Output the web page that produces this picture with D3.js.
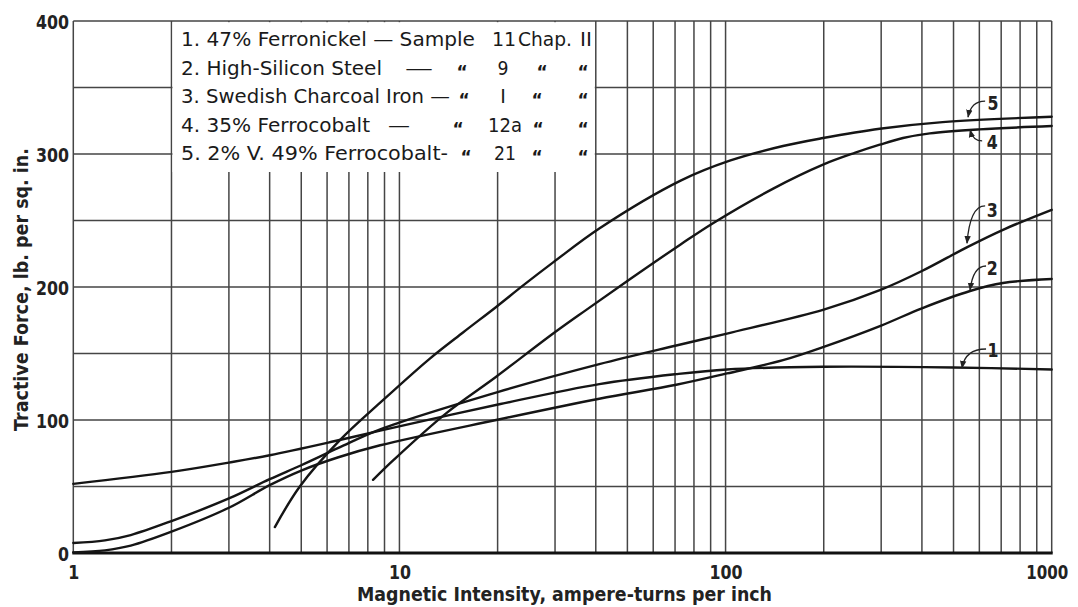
<!DOCTYPE html>
<html><head><meta charset="utf-8">
<script src="https://cdn.jsdelivr.net/npm/d3@7"></script>
<style>body{margin:0;background:#fff}svg{display:block}</style>
</head><body>
<svg id="c" width="1078" height="607"></svg>
<script>
// ---------- data ----------
const xTickValues = [1, 10, 100, 1000];
const xTickLabels = ["1", "10", "100", "1000"];
const yTickValues = [0, 100, 200, 300, 400];
const yTickLabels = ["0", "100", "200", "300", "400"];
const xGridValues = [1,2,3,4,5,6,7,8,9,10,20,30,40,50,60,70,80,90,100,200,300,400,500,600,700,800,900,1000];
const yGridValues = [0,50,100,150,200,250,300,350,400];

// 1. 47% Ferronickel
const s1x = [1, 2, 3, 4, 6.3, 8.73, 20.4, 41, 70.6, 101, 200, 500, 1000];
const s1y = [52, 61, 68, 73.5, 84, 92, 112, 127, 134.5, 138, 140, 139.5, 138];
// 2. High-Silicon Steel
const s2x = [1, 1.25, 1.5, 2, 3, 4, 5, 6.5, 8.73, 19.8, 41, 70.6, 101, 150, 200, 300, 400, 562, 709, 1000];
const s2y = [0.5, 2, 5.5, 16, 34, 51, 62, 72, 81, 100, 116, 126.5, 135, 145, 155, 171, 184, 197, 203, 206];
// 3. Swedish Charcoal Iron
const s3x = [1, 1.25, 1.5, 2, 3, 4, 5, 6.5, 8.73, 20, 41, 70.6, 101, 200, 300, 400, 551, 709, 1000];
const s3y = [7.5, 9.5, 13.5, 24, 41, 55.5, 66, 79, 93, 121, 142, 156, 165, 183, 198, 212, 230, 243, 258];
// 4. 35% Ferrocobalt
const s4x = [8.3, 9.6, 13.9, 19.8, 29.6, 37.5, 51, 72.8, 91.5, 140, 199, 250, 297, 350, 423, 600, 1000];
const s4y = [55, 70, 105, 132.5, 165, 183, 206, 232, 248, 274, 292, 301, 307, 312, 315.5, 318.5, 321];
// 5. 2% V. 49% Ferrocobalt
const s5x = [4.15, 4.95, 6.58, 8.73, 12.37, 15.7, 19.8, 23.9, 29.6, 41, 72.8, 103, 150, 199, 297, 463, 1000];
const s5y = [19.5, 50, 85, 113, 146, 166, 185, 201, 218.5, 244, 280, 295, 306, 312, 319, 324, 328];

const seriesX = [s1x, s2x, s3x, s4x, s5x];
const seriesY = [s1y, s2y, s3y, s4y, s5y];

// curve number annotations (data units)
const annNames = ["1", "2", "3", "4", "5"];
const annLabelV = [661, 657, 657, 657, 661];
const annLabelVal = [152.6, 214.3, 257.9, 309, 338.3];
const annStartV = [629, 629, 625, 612, 625];
const annStartVal = [153.4, 215.8, 261, 309.8, 339.8];
const annTipV = [531, 562, 550, 562, 554];
const annTipVal = [139.1, 197.7, 233, 318, 327.8];

// legend text
const legendRows = [
  [{t:"1. 47% Ferronickel — Sample", x:181, w:294}, {t:"11", c:504}, {t:"Chap.", x:518, w:54}, {t:"II", x:580, w:12}],
  [{t:"2. High-Silicon Steel", x:181, w:201}, {t:"—", x:405, w:28}, {t:"“", c:462, d:1}, {t:"9", c:503, w:11}, {t:"“", c:542, d:1}, {t:"“", c:583, d:1}],
  [{t:"3. Swedish Charcoal Iron —", x:181, w:269}, {t:"“", c:464, d:1}, {t:"I", c:503}, {t:"“", c:537, d:1}, {t:"“", c:583, d:1}],
  [{t:"4. 35% Ferrocobalt", x:181, w:189}, {t:"—", x:388, w:22}, {t:"“", c:458, d:1}, {t:"12a", c:505, w:34}, {t:"“", c:538, d:1}, {t:"“", c:583, d:1}],
  [{t:"5. 2% V. 49% Ferrocobalt-", x:181, w:267}, {t:"“", c:466, d:1}, {t:"21", c:505, w:22}, {t:"“", c:537, d:1}, {t:"“", c:583, d:1}]
];
const legendBaselines = [45.5, 74.5, 103, 131.5, 160];

// ---------- chart ----------
const svg = d3.select("#c");
const x = d3.scaleLog().domain([1, 1000]).range([73.3, 1051.7]);
const y = d3.scaleLinear().domain([0, 400]).range([553, 21]);
const FONT = "'DejaVu Sans', 'Liberation Sans', sans-serif";
const GRID = "#454545";

const grid = svg.append("g");
grid.selectAll("line.v").data(xGridValues).join("line")
  .attr("x1", d => x(d)).attr("x2", d => x(d))
  .attr("y1", y(0)).attr("y2", y(400))
  .attr("stroke", GRID).attr("stroke-width", 1.5);
grid.selectAll("line.h").data(yGridValues).join("line")
  .attr("x1", x(1)).attr("x2", x(1000))
  .attr("y1", d => y(d)).attr("y2", d => y(d))
  .attr("stroke", GRID).attr("stroke-width", 1.5);

// legend box (blank region inside grid)
svg.append("rect")
  .attr("x", x(2) + 1).attr("y", y(400) + 1.2)
  .attr("width", x(40) - x(2) - 2).attr("height", 172 - y(400) - 1.2)
  .attr("fill", "#fff");

// bottom axis line
svg.append("line").attr("x1", x(1) - 1).attr("x2", x(1000) + 1)
  .attr("y1", y(0)).attr("y2", y(0)).attr("stroke", "#111").attr("stroke-width", 3.2);

// curves
const line = d3.line().curve(d3.curveCatmullRom.alpha(0.5));
seriesX.forEach((xs, i) => {
  const pts = xs.map((v, j) => [x(v), y(seriesY[i][j])]);
  svg.append("path").attr("d", line(pts))
    .attr("fill", "none").attr("stroke", "#151515").attr("stroke-width", 2.4)
    .attr("stroke-linecap", "round");
});

// axes (labels only)
const xAxis = svg.append("g").attr("transform", `translate(0,${579 - 12})`)
  .call(d3.axisBottom(x).tickValues(xTickValues).tickFormat((d, i) => xTickLabels[i]).tickSize(0).tickPadding(0));
xAxis.select(".domain").remove();
xAxis.selectAll("text").attr("dy", null).attr("y", 12)
  .attr("font-family", FONT).attr("font-weight", "bold").attr("font-size", 19).attr("fill", "#222")
  .attr("textLength", (d, i) => xTickLabels[i].length * 11).attr("lengthAdjust", "spacingAndGlyphs");
xAxis.selectAll(".tick").filter(d => d === 1000).select("text")
  .attr("text-anchor", "end").attr("x", 16).attr("textLength", 42);

const yAxis = svg.append("g").attr("transform", "translate(69,0)")
  .call(d3.axisLeft(y).tickValues(yTickValues).tickFormat((d, i) => yTickLabels[i]).tickSize(0).tickPadding(0));
yAxis.select(".domain").remove();
yAxis.selectAll("text").attr("dy", "7.5").attr("x", 0)
  .attr("font-family", FONT).attr("font-weight", "bold").attr("font-size", 20).attr("fill", "#222")
  .attr("textLength", (d, i) => yTickLabels[i].length * 11).attr("lengthAdjust", "spacingAndGlyphs");

// axis titles
svg.append("text").attr("x", 357).attr("y", 601)
  .attr("font-family", FONT).attr("font-weight", "bold").attr("font-size", 19).attr("fill", "#222")
  .attr("textLength", 415).attr("lengthAdjust", "spacingAndGlyphs")
  .text("Magnetic Intensity, ampere-turns per inch");
svg.append("text").attr("transform", "translate(28,289.5) rotate(-90)")
  .attr("text-anchor", "middle")
  .attr("font-family", FONT).attr("font-weight", "bold").attr("font-size", 19).attr("fill", "#222")
  .attr("textLength", 283).attr("lengthAdjust", "spacingAndGlyphs")
  .text("Tractive Force, lb. per sq. in.");

// legend
legendRows.forEach((row, r) => {
  row.forEach(seg => {
    const t = svg.append("text")
      .attr("y", legendBaselines[r] + (seg.d ? 3 : 0))
      .attr("font-family", FONT).attr("font-size", seg.d ? 17 : 19).attr("fill", "#1a1a1a")
      .attr("font-weight", seg.d ? "bold" : "normal")
      .text(seg.t);
    if (seg.c !== undefined) t.attr("x", seg.c).attr("text-anchor", "middle");
    else t.attr("x", seg.x);
    if (seg.w) t.attr("textLength", seg.w).attr("lengthAdjust", "spacingAndGlyphs");
  });
});

// annotations with arrows
svg.append("defs").append("marker").attr("id", "ah")
  .attr("viewBox", "0 0 10 10").attr("refX", 9).attr("refY", 5)
  .attr("markerWidth", 8).attr("markerHeight", 8).attr("markerUnits", "userSpaceOnUse")
  .attr("orient", "auto")
  .append("path").attr("d", "M0,1 L10,5 L0,9 z").attr("fill", "#222");

annNames.forEach((n, i) => {
  const sx = x(annStartV[i]), sy = y(annStartVal[i]);
  const tx = x(annTipV[i]), ty = y(annTipVal[i]);
  const cx = tx + 3, cy = sy;
  svg.append("path").attr("d", `M${sx},${sy} Q${cx},${cy} ${tx},${ty}`)
    .attr("fill", "none").attr("stroke", "#222").attr("stroke-width", 1.3)
    .attr("marker-end", "url(#ah)");
  svg.append("text").attr("x", x(annLabelV[i])).attr("y", y(annLabelVal[i]) + 7)
    .attr("text-anchor", "middle")
    .attr("font-family", FONT).attr("font-weight", "bold").attr("font-size", 19).attr("fill", "#222")
    .attr("textLength", 11).attr("lengthAdjust", "spacingAndGlyphs")
    .text(n);
});
</script>
</body></html>
